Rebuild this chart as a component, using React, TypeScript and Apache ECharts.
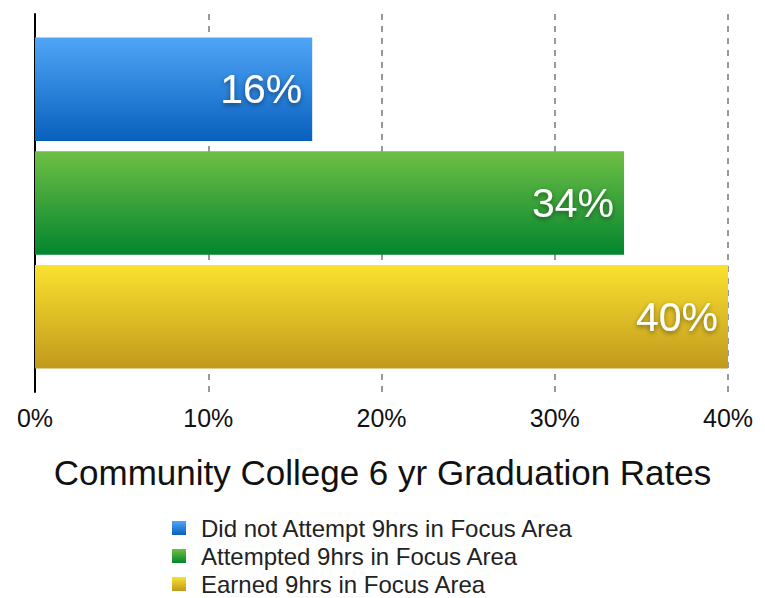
import React, { useEffect, useRef } from "react";
import * as echarts from "echarts";

const seriesNames = [
  "Did not Attempt 9hrs in Focus Area",
  "Attempted 9hrs in Focus Area",
  "Earned 9hrs in Focus Area",
];
const seriesValues = [16, 34, 40];
const gradientTop = ["#4fa6f7", "#6fbf45", "#fae22e"];
const gradientBottom = ["#0860bd", "#02852e", "#c1991e"];
const xTicks = [0, 10, 20, 30, 40];
const chartTitle = "Community College 6 yr Graduation Rates";

export default function App() {
  const ref = useRef<HTMLDivElement>(null);
  useEffect(() => {
    document.body.style.margin = "0";
    const chart = echarts.init(ref.current!, null, { renderer: "svg" });
    const font = "Liberation Sans";
    chart.setOption({
      animation: false,
      title: {
        text: chartTitle,
        left: "center",
        top: 450,
        textStyle: { fontFamily: font, fontWeight: "normal", fontSize: 35, color: "#111" },
      },
      legend: {
        orient: "vertical",
        left: 172,
        top: 516,
        height: 82,
        padding: 0,
        itemWidth: 14,
        itemHeight: 14,
        itemGap: 4,
        icon: "rect",
        textStyle: {
          fontFamily: font,
          fontSize: 24,
          lineHeight: 24,
          color: "#222",
          padding: [0, 0, 0, 10],
        },
        data: seriesNames,
      },
      grid: { left: 35, right: 37, top: 14, bottom: 206, containLabel: false },
      xAxis: {
        type: "value",
        min: xTicks[0],
        max: xTicks[xTicks.length - 1],
        interval: 10,
        axisLine: { show: false },
        axisTick: { show: false },
        axisLabel: {
          formatter: "{value}%",
          fontFamily: font,
          fontSize: 25,
          color: "#111",
          margin: 13,
        },
        splitLine: { show: true, lineStyle: { color: "#999", width: 2, type: [6, 6] } },
      },
      yAxis: {
        type: "category",
        data: [""],
        inverse: true,
        axisLine: { show: true, lineStyle: { color: "#000", width: 2 } },
        axisTick: { show: false },
        axisLabel: { show: false },
      },
      series: seriesNames.map((name, i) => ({
        name,
        type: "bar",
        data: [seriesValues[i]],
        barGap: "10%",
        barCategoryGap: "12.4%",
        itemStyle: {
          color: new echarts.graphic.LinearGradient(0, 0, 0, 1, [
            { offset: 0, color: gradientTop[i] },
            { offset: 1, color: gradientBottom[i] },
          ]),
        },
        label: {
          show: true,
          position: "insideRight",
          distance: 10,
          formatter: "{c}%",
          fontFamily: font,
          fontSize: 41,
          color: "#fff",
          textShadowColor: "rgba(0,0,0,0.45)",
          textShadowBlur: 5,
          textShadowOffsetY: 2,
        },
      })),
    });
    return () => chart.dispose();
  }, []);
  return <div ref={ref} style={{ width: 765, height: 598 }} />;
}
